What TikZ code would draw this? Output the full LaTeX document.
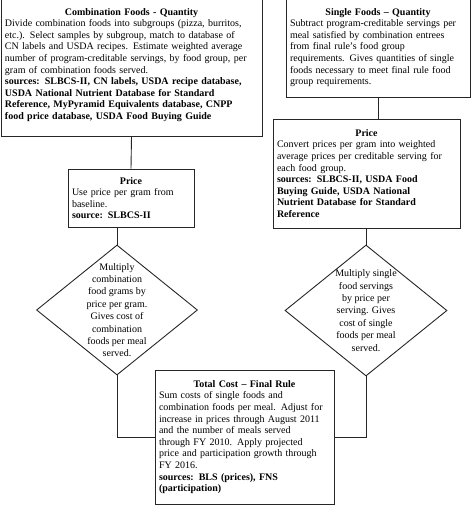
\documentclass[tikz,border=0pt]{standalone}
\usepackage{fontspec}
\setmainfont{Liberation Serif}
\usetikzlibrary{shapes.geometric, positioning}

\newcommand{\boxhead}[1]{{\centering\textbf{#1}\par}}

\begin{document}
\begin{tikzpicture}[
    x=1pt, y=-1pt,
    stepbox/.style={rectangle, draw=black!85, line width=0.9pt, inner xsep=4pt, inner ysep=0pt, align=left, font=\fontsize{10}{11.6}\selectfont},
    decision/.style={diamond, draw=black!85, line width=0.9pt, inner sep=0pt},
    dtext/.style={align=center, inner sep=0pt, font=\fontsize{10}{12.4}\selectfont},
    link/.style={line width=0.9pt, black!85}
]
\useasboundingbox (0,0) rectangle (474,507);

% Quantities
\node[stepbox, text width=253pt, minimum height=142pt] (combo) at (131.5,65) {\boxhead{Combination Foods - Quantity}
Divide combination foods into subgroups (pizza, burritos,\\
etc.). Select samples by subgroup, match to database of\\
CN labels and USDA recipes. Estimate weighted average\\
number of program-creditable servings, by food group, per\\
gram of combination foods served.\\
\textbf{sources: SLBCS-II, CN labels, USDA recipe database,}\\
\textbf{USDA National Nutrient Database for Standard}\\
\textbf{Reference, MyPyramid Equivalents database, CNPP}\\
\textbf{food price database, USDA Food Buying Guide}};
\node[stepbox, text width=176pt, minimum height=99pt] (single) at (378,47.5) {\boxhead{Single Foods – Quantity}
Subtract program-creditable servings per\\
meal satisfied by combination entrees\\
from final rule’s food group\\
requirements. Gives quantities of single\\
foods necessary to meet final rule food\\
group requirements.};

% Prices
\node[stepbox, text width=118pt, minimum height=58pt] (price1) at (131,198) {\boxhead{Price}
Use price per gram from\\
baseline.\\
\textbf{source: SLBCS-II}};
\node[stepbox, text width=179pt, minimum height=109pt] (price2) at (366.5,173.5) {\boxhead{Price}
Convert prices per gram into weighted\\
average prices per creditable serving for\\
each food group.\\
\textbf{sources: SLBCS-II, USDA Food}\\
\textbf{Buying Guide, USDA National}\\
\textbf{Nutrient Database for Standard}\\
\textbf{Reference}};

% Costs
\node[decision, minimum width=161pt, minimum height=130pt] (mult1) at (117,310) {};
\node[dtext] (mult1text) at (mult1) {Multiply\\combination\\food grams by\\price per gram.\\Gives cost of\\combination\\foods per meal\\served.};
\node[decision, minimum width=162pt, minimum height=131pt] (mult2) at (366,310.5) {};
\node[dtext] (mult2text) at (mult2) {Multiply single\\food servings\\by price per\\serving. Gives\\cost of single\\foods per meal\\served.};

% Total
\node[stepbox, text width=171pt, minimum height=134pt] (total) at (244.5,437) {\boxhead{Total Cost – Final Rule}
Sum costs of single foods and\\
combination foods per meal. Adjust for\\
increase in prices through August 2011\\
and the number of meals served\\
through FY 2010. Apply projected\\
price and participation growth through\\
FY 2016.\\
\textbf{sources: BLS (prices), FNS}\\
\textbf{(participation)}};

% Connectors
\draw[link] (combo.south) -- (price1.north);
\draw[link] (mult1.north |- price1.south) -- (mult1.north);
\draw[link] (single.south) -- (single.south |- price2.north);
\draw[link] (mult2.north |- price2.south) -- (mult2.north);
\draw[link] (mult1.south) |- (total.west);
\draw[link] (mult2.south) |- (total.east);
\end{tikzpicture}
\end{document}
